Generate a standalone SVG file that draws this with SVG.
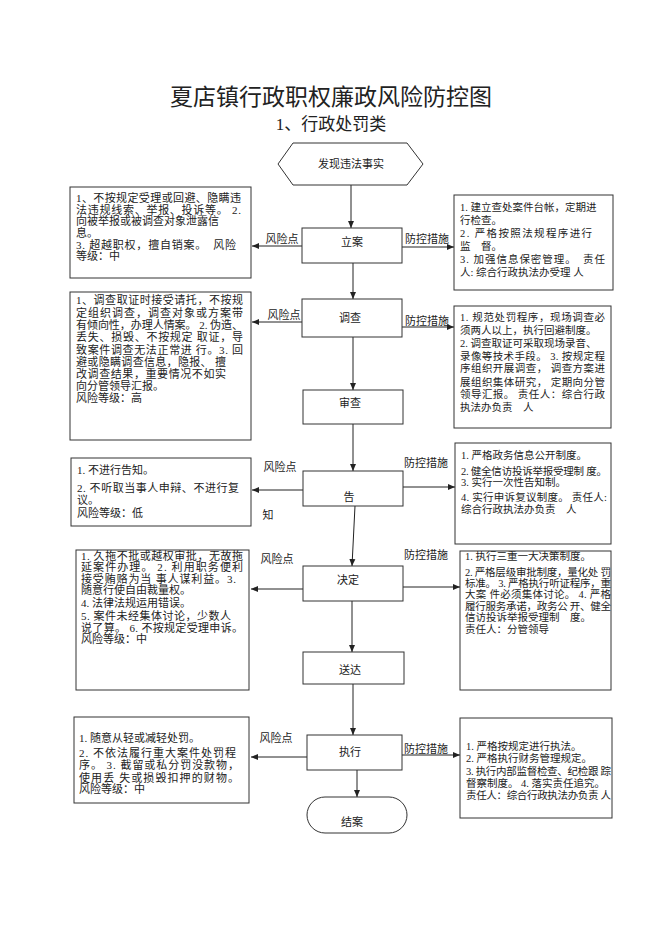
<svg xmlns="http://www.w3.org/2000/svg" width="662" height="936" viewBox="0 0 662 936">
<style>
text{font-family:"Liberation Serif","Noto Sans CJK SC",serif;fill:#222;}
.t{font-size:23px;}
.st{font-size:17px;}
.lb{font-size:11px;}
.bx{font-size:11px;}
.rx{font-size:10.5px;}
.c{text-anchor:middle;}
.box{fill:#fff;stroke:#333;stroke-width:1;}
.ln{stroke:#222;stroke-width:1;fill:none;}
</style>
<defs>
<marker id="ah" markerWidth="8" markerHeight="8" refX="7" refY="4" orient="auto" markerUnits="userSpaceOnUse">
<path d="M0,1 L7,4 L0,7 Z" fill="#222"/>
</marker>
</defs>
<rect width="662" height="936" fill="#fff"/>
<text class="t c" x="331" y="105">夏店镇行政职权廉政风险防控图</text>
<text class="st c" x="331" y="130">1、行政处罚类</text>

<g id="connectors">
<line class="ln" x1="351" y1="185" x2="351" y2="228" marker-end="url(#ah)"/>
<line class="ln" x1="353" y1="263" x2="353" y2="299" marker-end="url(#ah)"/>
<line class="ln" x1="353" y1="337" x2="353" y2="390" marker-end="url(#ah)"/>
<line class="ln" x1="353" y1="424" x2="353" y2="471" marker-end="url(#ah)"/>
<line class="ln" x1="355" y1="506" x2="352" y2="566" marker-end="url(#ah)"/>
<line class="ln" x1="352" y1="601" x2="352" y2="652" marker-end="url(#ah)"/>
<line class="ln" x1="353" y1="684" x2="353" y2="735" marker-end="url(#ah)"/>
<line class="ln" x1="357" y1="770" x2="357" y2="797" marker-end="url(#ah)"/>
<line class="ln" x1="302" y1="246" x2="252" y2="246" marker-end="url(#ah)"/>
<line class="ln" x1="302" y1="322" x2="252" y2="322" marker-end="url(#ah)"/>
<line class="ln" x1="303" y1="490" x2="252" y2="490" marker-end="url(#ah)"/>
<line class="ln" x1="303" y1="589" x2="251" y2="589" marker-end="url(#ah)"/>
<line class="ln" x1="307" y1="757" x2="251" y2="757" marker-end="url(#ah)"/>
<line class="ln" x1="402" y1="247" x2="454" y2="247" marker-end="url(#ah)"/>
<line class="ln" x1="402" y1="327" x2="454" y2="327" marker-end="url(#ah)"/>
<line class="ln" x1="403" y1="487" x2="455" y2="487" marker-end="url(#ah)"/>
<line class="ln" x1="403" y1="587" x2="460" y2="587" marker-end="url(#ah)"/>
<line class="ln" x1="402" y1="755" x2="460" y2="755" marker-end="url(#ah)"/>
<text class="lb c" x="282" y="243">风险点</text>
<text class="lb c" x="427" y="243">防控措施</text>
<text class="lb c" x="284" y="319">风险点</text>
<text class="lb c" x="427" y="325">防控措施</text>
<text class="lb c" x="280" y="471">风险点</text>
<text class="lb c" x="426" y="467">防控措施</text>
<text class="lb c" x="277" y="563">风险点</text>
<text class="lb c" x="426" y="559">防控措施</text>
<text class="lb c" x="276" y="742">风险点</text>
<text class="lb c" x="426" y="753">防控措施</text>
</g>

<g id="start">
<polygon class="box" points="278,164 293,143 407,143 423,164 407,185 293,185"/>
<text class="bx c" x="351" y="168">发现违法事实</text>
</g>
<g id="lian"><rect class="box" x="302" y="228" width="100" height="35"/><text class="bx c" x="352" y="246">立案</text></g>
<g id="diaocha"><rect class="box" x="302" y="299" width="100" height="38"/><text class="bx c" x="350" y="322">调查</text></g>
<g id="shencha"><rect class="box" x="303" y="390" width="100" height="34"/><text class="bx c" x="350" y="407">审查</text></g>
<g id="gaozhi"><rect class="box" x="303" y="471" width="100" height="35"/><text class="bx c" x="349" y="501">告</text><text class="bx c" x="268" y="519">知</text></g>
<g id="jueding"><rect class="box" x="303" y="566" width="100" height="35"/><text class="bx c" x="348" y="584">决定</text></g>
<g id="songda"><rect class="box" x="303" y="652" width="101" height="32"/><text class="bx c" x="350" y="674">送达</text></g>
<g id="zhixing"><rect class="box" x="307" y="735" width="95" height="35"/><text class="bx c" x="350" y="756">执行</text></g>
<g id="jiean"><rect class="box" x="307" y="797" width="100" height="36" rx="18"/><text class="bx c" x="352" y="826">结案</text></g>

<g id="risk1">
<rect class="box" x="70" y="187" width="181" height="91"/>
<text class="bx" x="76" y="202" textLength="165" lengthAdjust="spacing">1、不按规定受理或回避、隐瞒违</text>
<text class="bx" x="76" y="214" textLength="165" lengthAdjust="spacing">法违规线索、举报、投诉等。 2.</text>
<text class="bx" x="76" y="225">向被举报或被调查对象泄露信</text>
<text class="bx" x="76" y="237">息。</text>
<text class="bx" x="76" y="249" textLength="160" lengthAdjust="spacing">3. 超越职权，擅自销案。　风险</text>
<text class="bx" x="76" y="260">等级：中</text>
</g>
<g id="measure1">
<rect class="box" x="454" y="195" width="159" height="95"/>
<text class="rx" x="460" y="211">1. 建立查处案件台帐，定期进</text>
<text class="rx" x="460" y="224">行检查。</text>
<text class="rx" x="460" y="237" textLength="132" lengthAdjust="spacing">2. 严格按照法规程序进行</text>
<text class="rx" x="460" y="250">监　督。</text>
<text class="rx" x="460" y="263" textLength="145" lengthAdjust="spacing">3. 加强信息保密管理。　责任</text>
<text class="rx" x="460" y="276">人: 综合行政执法办受理 人</text>
</g>

<g id="risk2">
<rect class="box" x="70" y="292" width="181" height="148"/>
<text class="bx" x="76" y="304" textLength="167" lengthAdjust="spacing">1、调查取证时接受请托，不按规</text>
<text class="bx" x="76" y="317" textLength="167" lengthAdjust="spacing">定组织调查，调查对象或方案带</text>
<text class="bx" x="76" y="329" textLength="167" lengthAdjust="spacing">有倾向性，办理人情案。 2. 伪造、</text>
<text class="bx" x="76" y="341" textLength="167" lengthAdjust="spacing">丢失、损毁、不按规定 取证，导</text>
<text class="bx" x="76" y="354" textLength="167" lengthAdjust="spacing">致案件调查无法正常进 行。3. 回</text>
<text class="bx" x="76" y="366" textLength="150" lengthAdjust="spacing">避或隐瞒调查信息，隐报、 擅</text>
<text class="bx" x="76" y="378" textLength="150" lengthAdjust="spacing">改调查结果，重要情况不如实</text>
<text class="bx" x="76" y="390">向分管领导汇报。</text>
<text class="bx" x="76" y="402">风险等级：高</text>
</g>
<g id="measure2">
<rect class="box" x="454" y="306" width="157" height="122"/>
<text class="rx" x="460" y="321" textLength="145" lengthAdjust="spacing">1. 规范处罚程序，现场调查必</text>
<text class="rx" x="460" y="334">须两人以上，执行回避制度。</text>
<text class="rx" x="460" y="347">2. 调查取证可采取现场录音、</text>
<text class="rx" x="460" y="360" textLength="145" lengthAdjust="spacing">录像等技术手段。 3. 按规定程</text>
<text class="rx" x="460" y="372" textLength="145" lengthAdjust="spacing">序组织开展调查， 调查方案进</text>
<text class="rx" x="460" y="386" textLength="145" lengthAdjust="spacing">展组织集体研究，  定期向分管</text>
<text class="rx" x="460" y="398" textLength="145" lengthAdjust="spacing">领导汇报。 责任人：综合行政</text>
<text class="rx" x="460" y="411">执法办负责　人</text>
</g>

<g id="risk3">
<rect class="box" x="71" y="458" width="180" height="68"/>
<text class="bx" x="77" y="474">1. 不进行告知。</text>
<text class="bx" x="77" y="492" textLength="162" lengthAdjust="spacing">2. 不听取当事人申辩、不进行复</text>
<text class="bx" x="77" y="504">议。</text>
<text class="bx" x="77" y="517">风险等级：低</text>
</g>
<g id="measure3">
<rect class="box" x="455" y="443" width="156" height="101"/>
<text class="rx" x="461" y="459">1. 严格政务信息公开制度。</text>
<text class="rx" x="461" y="475" textLength="146" lengthAdjust="spacing">2. 健全信访投诉举报受理制 度。</text>
<text class="rx" x="461" y="486">3. 实行一次性告知制。</text>
<text class="rx" x="461" y="501" textLength="146" lengthAdjust="spacing">4. 实行申诉复议制度。 责任人:</text>
<text class="rx" x="461" y="513">综合行政执法办负责　人</text>
</g>

<g id="risk4">
<rect class="box" x="76" y="550" width="173" height="140"/>
<text class="bx" x="81" y="560" textLength="162" lengthAdjust="spacing">1. 久拖不批或越权审批，无故拖</text>
<text class="bx" x="81" y="571" textLength="162" lengthAdjust="spacing">延案件办理。 2. 利用职务便利</text>
<text class="bx" x="81" y="583" textLength="155" lengthAdjust="spacing">接受贿赂为当 事人谋利益。3.</text>
<text class="bx" x="81" y="594">随意行使自由裁量权。</text>
<text class="bx" x="81" y="607">4. 法律法规运用错误。</text>
<text class="bx" x="81" y="620" textLength="150" lengthAdjust="spacing">5. 案件未经集体讨论，少数人</text>
<text class="bx" x="81" y="632" textLength="162" lengthAdjust="spacing">说了算。 6. 不按规定受理申诉。</text>
<text class="bx" x="81" y="643">风险等级：中</text>
</g>
<g id="measure4">
<rect class="box" x="460" y="551" width="151" height="139"/>
<text class="rx" x="465" y="560">1. 执行三重一大决策制度。</text>
<text class="rx" x="465" y="576" textLength="146" lengthAdjust="spacing">2. 严格层级审批制度，量化处 罚</text>
<text class="rx" x="465" y="587" textLength="146" lengthAdjust="spacing">标准。 3. 严格执行听证程序，重</text>
<text class="rx" x="465" y="598" textLength="146" lengthAdjust="spacing">大案  件必须集体讨论。 4. 严格</text>
<text class="rx" x="465" y="610" textLength="146" lengthAdjust="spacing">履行服务承诺，政务公 开、健全</text>
<text class="rx" x="465" y="621">信访投诉举报受理制　度。</text>
<text class="rx" x="465" y="633">责任人：分管领导</text>
</g>

<g id="risk5">
<rect class="box" x="74" y="717" width="175" height="86"/>
<text class="bx" x="79" y="742">1. 随意从轻或减轻处罚。</text>
<text class="bx" x="79" y="757" textLength="157" lengthAdjust="spacing">2. 不依法履行重大案件处罚程</text>
<text class="bx" x="79" y="769" textLength="160" lengthAdjust="spacing">序。 3. 截留或私分罚没款物，</text>
<text class="bx" x="79" y="782" textLength="160" lengthAdjust="spacing">使用丢 失或损毁扣押的财物。</text>
<text class="bx" x="79" y="793">风险等级：中</text>
</g>
<g id="measure5">
<rect class="box" x="460" y="718" width="152" height="100"/>
<text class="rx" x="466" y="750">1. 严格按规定进行执法。</text>
<text class="rx" x="466" y="762">2. 严格执行财务管理规定。</text>
<text class="rx" x="466" y="775" textLength="145" lengthAdjust="spacing">3. 执行内部监督检查、纪检跟 踪</text>
<text class="rx" x="466" y="787">督察制度。 4. 落实责任追究。</text>
<text class="rx" x="466" y="799" textLength="145" lengthAdjust="spacing">责任人：综合行政执法办负责 人</text>
</g>
</svg>
